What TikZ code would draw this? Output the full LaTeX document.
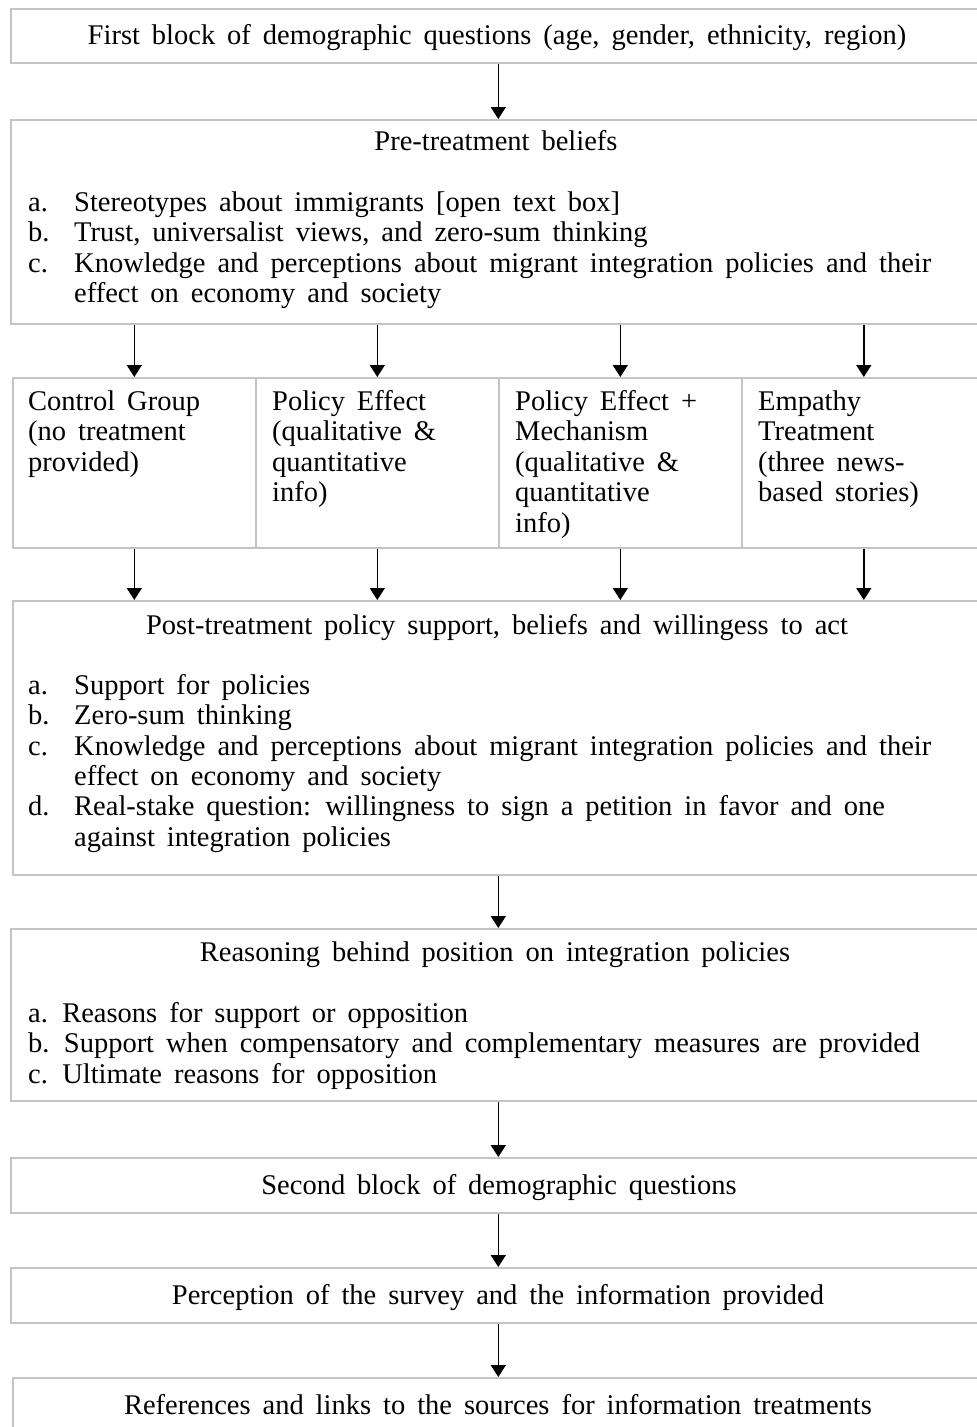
\documentclass[tikz,border=0pt]{standalone}
\usepackage{fontspec}
\setmainfont{Liberation Serif}
\usetikzlibrary{arrows.meta}
\definecolor{boxgray}{HTML}{C4C4C4}
\newcommand{\diagfont}{\fontsize{28.5}{30}\selectfont\spaceskip=0.42em\relax}
\begin{document}
\begin{tikzpicture}[x=1pt,y=-1pt,
  font=\diagfont,
  box/.style={draw=boxgray,line width=1.6pt,inner sep=0pt,anchor=north west,rectangle},
  txt/.style={inner sep=0pt,anchor=base west},
  ctr/.style={inner sep=0pt,anchor=base},
  arr/.style={draw=black,line width=1.5pt,-{Triangle[width=15pt,length=12pt]}}]
\useasboundingbox (0,0) rectangle (977,1427);
\clip (0,0) rectangle (977,1427);
% boxes
\node[box,minimum width=975pt,minimum height=54pt] (b1) at (10,8) {};
\node[box,minimum width=975pt,minimum height=204pt] (b2) at (10,119) {};
\node[box,minimum width=243pt,minimum height=170pt] (g1) at (12,377) {};
\node[box,minimum width=243pt,minimum height=170pt] (g2) at (255,377) {};
\node[box,minimum width=243pt,minimum height=170pt] (g3) at (498,377) {};
\node[box,minimum width=244pt,minimum height=170pt] (g4) at (741,377) {};
\node[box,minimum width=973pt,minimum height=274pt] (b3) at (12,600) {};
\node[box,minimum width=975pt,minimum height=172pt] (b4) at (10,928) {};
\node[box,minimum width=975pt,minimum height=55pt] (b5) at (10,1157) {};
\node[box,minimum width=975pt,minimum height=55pt] (b6) at (10,1267) {};
\node[box,minimum width=973pt,minimum height=70pt] (b7) at (12,1377) {};
% texts
\node[ctr] (t1) at (497,44) {First block of demographic questions (age, gender, ethnicity, region)};
\node[ctr] (t2) at (496,150) {Pre-treatment beliefs};
\node[txt] (t2al) at (28,211) {a.};
\node[txt] (t2a) at (74,211) {Stereotypes about immigrants [open text box]};
\node[txt] (t2bl) at (28,241) {b.};
\node[txt] (t2b) at (74,241) {Trust, universalist views, and zero-sum thinking};
\node[txt] (t2cl) at (28,272) {c.};
\node[txt] (t2c) at (74,272) {Knowledge and perceptions about migrant integration policies and their};
\node[txt] (t2c2) at (74,302) {effect on economy and society};
\node[txt] (g1t) at (28,410) {Control Group};
\node[txt] (g1t2) at (28,440) {(no treatment};
\node[txt] (g1t3) at (28,471) {provided)};
\node[txt] (g2t) at (272,410) {Policy Effect};
\node[txt] (g2t2) at (272,440) {(qualitative \&};
\node[txt] (g2t3) at (272,471) {quantitative};
\node[txt] (g2t4) at (272,501) {info)};
\node[txt] (g3t) at (515,410) {Policy Effect +};
\node[txt] (g3t2) at (515,440) {Mechanism};
\node[txt] (g3t3) at (515,471) {(qualitative \&};
\node[txt] (g3t4) at (515,501) {quantitative};
\node[txt] (g3t5) at (515,532) {info)};
\node[txt] (g4t) at (758,410) {Empathy};
\node[txt] (g4t2) at (758,440) {Treatment};
\node[txt] (g4t3) at (758,471) {(three news-};
\node[txt] (g4t4) at (758,501) {based stories)};
\node[ctr] (t3) at (497,634) {Post-treatment policy support, beliefs and willingess to act};
\node[txt] (t3al) at (28,694) {a.};
\node[txt] (t3a) at (74,694) {Support for policies};
\node[txt] (t3bl) at (28,724) {b.};
\node[txt] (t3b) at (74,724) {Zero-sum thinking};
\node[txt] (t3cl) at (28,755) {c.};
\node[txt] (t3c) at (74,755) {Knowledge and perceptions about migrant integration policies and their};
\node[txt] (t3c2) at (74,785) {effect on economy and society};
\node[txt] (t3dl) at (28,815) {d.};
\node[txt] (t3d) at (74,815) {Real-stake question: willingness to sign a petition in favor and one};
\node[txt] (t3d2) at (74,846) {against integration policies};
\node[ctr] (t4) at (495,961) {Reasoning behind position on integration policies};
\node[txt] (t4a) at (28,1022) {a. Reasons for support or opposition};
\node[txt] (t4b) at (28,1052) {b. Support when compensatory and complementary measures are provided};
\node[txt] (t4c) at (28,1083) {c. Ultimate reasons for opposition};
\node[ctr] (t5) at (499,1194) {Second block of demographic questions};
\node[ctr] (t6) at (498,1304) {Perception of the survey and the information provided};
\node[ctr] (t7) at (498,1414) {References and links to the sources for information treatments};
% arrows
\draw[arr] (b1.south) -- (b2.north);
\foreach \g in {g1,g2,g3,g4}{
  \draw[arr] (\g.north |- b2.south) -- (\g.north);
  \draw[arr] (\g.south) -- (\g.south |- b3.north);
}
\draw[arr] (b4.north |- b3.south) -- (b4.north);
\draw[arr] (b4.south) -- (b5.north);
\draw[arr] (b5.south) -- (b6.north);
\draw[arr] (b6.south) -- (b6.south |- b7.north);
\end{tikzpicture}
\end{document}
